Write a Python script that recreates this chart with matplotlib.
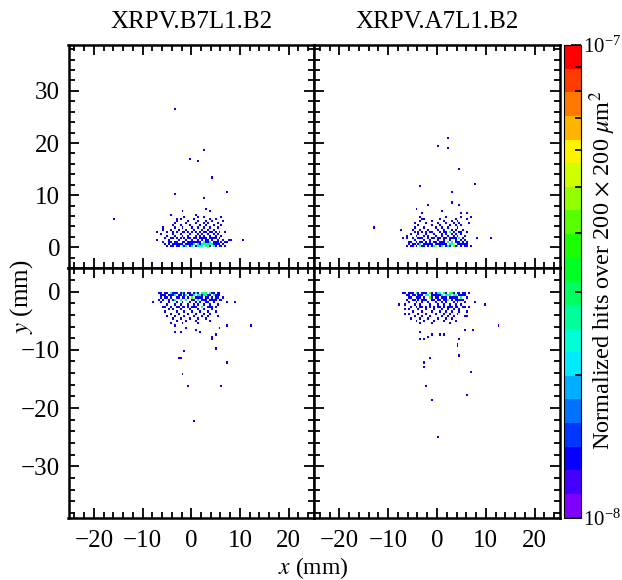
import numpy as np
import matplotlib
matplotlib.use('Agg')
import matplotlib.pyplot as plt
from matplotlib.colors import ListedColormap, LogNorm, hsv_to_rgb
from matplotlib.ticker import MultipleLocator, NullFormatter

plt.rcParams['font.family'] = ['Liberation Serif', 'DejaVu Serif']
plt.rcParams['mathtext.fontset'] = 'stix'
plt.rcParams['font.size'] = 18

titles = ['XRPV.B7L1.B2', 'XRPV.A7L1.B2']

# hits (mm): rows of the dense core as (y, [x...]), plus isolated hits
b7_up_rows = [
    (0.3, [-5.1, -4.3, -3.8, -3.0, -2.7, -2.0, -1.3, -0.9, -0.2, 0.3, 0.9, 1.4, 1.8, 2.3, 2.9, 3.3, 3.8, 4.5, 5.1, 5.6,
           6.2, 7.1, 0.3, 2.3, 2.9, 3.3, 3.3, 4.5, -0.9, 1.4, -2.0, 1.8]),
    (0.5, [-4.6, -3.4, -2.3, -1.7, -0.6, 0.1, 0.7, 1.2, 2.1, 2.6, 3.1, 3.7, 4.2, 4.9, 5.4, 6.6, 2.6, 3.7, 1.2]),
    (0.7, [-5.4, -3.9, -3.1, -2.5, -1.0, -0.4, 0.5, 1.6, 2.2, 2.8, 3.5, 4.0, 4.7, 5.8, 3.5]),
    (0.9, [-4.8, -2.9, -1.9, -0.8, 0.2, 1.0, 1.9, 2.7, 3.2, 3.9, 4.4, 5.2, 7.0, 7.5]),
    (1.1, [-5.9, -4.1, -3.3, -1.5, -0.3, 0.6, 1.5, 2.4, 3.0, 3.6, 4.8, 6.0]),
    (1.3, [-4.5, -2.6, -1.1, 0.0, 1.2, 2.0, 2.9, 3.4, 4.3, 5.5, 6.5, 7.8, 8.2, 10.7, -7.2]),
    (1.6, [-5.6, -3.7, -2.2, -0.6, 0.4, 1.7, 2.5, 3.8, 4.6, 5.1]),
    (1.9, [-4.3, -3.0, -1.4, -0.1, 1.1, 2.2, 3.1, 4.1, 5.7]),
    (2.2, [-5.0, -3.5, -1.8, -0.7, 0.8, 1.9, 2.7, 3.6, 4.9, 6.2]),
    (2.5, [-6.3, -4.0, -2.4, -0.2, 1.4, 2.3, 3.3, 4.4, 5.4]),
    (2.8, [-3.2, -1.3, 0.3, 1.0, 2.9, 3.9, 5.9, 6.8, -7.1]),
    (3.1, [-5.2, -3.9, -2.0, -0.5, 1.6, 2.5, 4.2, 5.0]),
    (3.5, [-4.4, -2.8, -1.0, 0.6, 2.1, 3.2, 4.6, -5.8]),
    (3.9, [-5.7, -3.4, -1.7, 0.1, 1.3, 2.7, 3.7, 5.3]),
    (4.3, [-4.0, -2.3, -0.3, 1.8, 3.1, 4.4, 6.1]),
    (4.7, [-3.6, -1.2, 0.8, 2.4, 3.5, 5.5]),
    (5.1, [-2.9, -0.6, 1.4, 2.9, 4.2, 6.4]),
    (5.5, [-3.2, -2.1, 0.5, 3.8, 5.1, -16.0]),
    (5.9, [-1.5, 1.3, 2.6, 6.1]),
    (6.3, [-4.2, 0.9]),
]
b7_up_single = [(-3.5, 26.5), (2.6, 18.5), (-0.4, 17.1), (1.3, 16.7), (4.0, 13.2), (-3.4, 10.3), (7.2, 10.7),
                (2.4, 9.3), (3.0, 7.4), (3.7, 7.0), (-1.8, 6.8)]

a7_up_rows = [
    (0.3, [-6.2, -5.5, -4.9, -4.2, -3.6, -3.2, -2.5, -1.9, -1.2, -0.7, -0.1, 0.4, 1.0, 1.6, 2.1, 2.7, 3.2, 3.8, 4.3, 5.0,
           5.6, 6.3, 6.9, -0.1, -0.1, -0.1, -3.6, -3.6, 2.1, 3.2, 3.2, 4.3, 1.0, -0.7]),
    (0.5, [-5.8, -4.5, -3.3, -2.2, -1.5, -0.4, 0.7, 1.3, 2.4, 2.9, 3.5, 4.6, 5.3, 6.0, 2.9, 3.5, -3.3]),
    (0.7, [-5.1, -3.9, -2.8, -1.7, -0.9, 0.2, 1.1, 1.8, 2.6, 3.4, 4.0, 4.9, 5.9, 3.4]),
    (0.9, [-6.0, -4.3, -3.0, -1.3, -0.2, 0.9, 2.0, 2.8, 3.7, 4.5, 5.5]),
    (1.1, [-5.3, -3.5, -2.4, -0.6, 0.5, 1.4, 2.3, 3.1, 4.2, 6.2]),
    (1.3, [-4.7, -2.7, -1.6, 0.1, 1.2, 2.5, 3.6, 4.8, 5.8]),
    (1.6, [-6.3, -4.0, -3.1, -2.0, -0.8, 0.6, 1.7, 2.9, 3.8, 4.4, 5.2, 8.3, 10.8, -7.1]),
    (1.9, [-5.0, -3.4, -1.1, 0.3, 1.5, 2.6, 3.3, 4.7]),
    (2.2, [-4.4, -2.6, -1.8, -0.3, 1.0, 2.2, 3.5, 4.1, 5.6, -6.3]),
    (2.5, [-5.6, -3.7, -2.2, -0.5, 0.8, 1.9, 3.0, 3.9, 5.0]),
    (2.8, [-4.8, -3.0, -1.4, 0.4, 1.6, 2.7, 4.4, 6.0]),
    (3.1, [-3.9, -2.1, -0.9, 1.2, 2.4, 3.4, 4.9]),
    (3.5, [-5.2, -3.3, -1.7, 0.0, 1.5, 2.9, 3.7, 5.4, -7.4]),
    (3.9, [-4.5, -2.6, -0.4, 1.0, 2.2, 4.0, -12.9]),
    (4.3, [-3.9, -1.2, 0.7, 2.6, 3.6, 5.1]),
    (4.7, [-4.6, -2.3, 0.2, 1.9, 3.2, 4.5, 6.4]),
    (5.1, [-3.5, -1.0, 1.4, 2.9, 4.2]),
    (5.5, [-2.5, 0.6, 3.9, 6.1, -3.0]),
    (5.9, [-3.4, 1.9, 4.8, 6.9]),
]
a7_up_single = [(2.2, 21.1), (0.1, 19.5), (2.0, 18.9), (4.6, 14.9), (-3.5, 11.7), (7.6, 12.1), (2.8, 10.7),
                (3.1, 8.4), (4.4, 8.2), (-2.0, 8.3), (-4.1, 7.4), (6.1, 6.7), (5.0, 6.4), (-3.0, 6.7), (1.1, 6.8)]

b7_down_rows = [
    (-0.3, [-6.7, -6.1, -5.6, -5.0, -4.4, -4.0, -3.5, -2.9, -2.4, -1.8, -1.3, -0.7, -0.2, 0.4, 0.9, 1.5, 2.0, 2.5, 3.1,
            3.6, 4.1, 4.7, 5.2, 5.7, 2.5, 2.5, 3.1, 3.6, -4.4, 0.9, -1.8, 2.0]),
    (-0.5, [-6.3, -5.3, -4.2, -3.3, -2.6, -1.5, -0.9, 0.1, 0.6, 1.2, 1.8, 2.7, 3.4, 4.4, 5.0, 5.9, -3.3, 2.7, 1.2]),
    (-0.7, [-5.8, -4.7, -3.8, -2.2, -1.1, -0.4, 0.7, 1.6, 2.3, 3.0, 3.9, 4.6, 5.5, 3.0]),
    (-0.9, [-6.1, -5.0, -3.1, -1.9, -0.6, 0.3, 1.3, 2.1, 2.9, 4.2, 5.2, 6.4, 0.3]),
    (-1.1, [-5.4, -4.3, -2.7, -1.5, 0.0, 1.0, 1.9, 3.4, 4.8]),
    (-1.3, [-6.5, -4.8, -3.5, -2.1, -0.9, 0.5, 1.5, 2.5, 3.7, 4.4, 5.6, -3.5]),
    (-1.6, [-5.7, -3.9, -2.4, -1.2, 0.2, 1.2, 2.2, 3.1, 4.0, 5.0, 6.1]),
    (-1.9, [-6.2, -4.6, -3.0, -1.7, -0.3, 0.8, 1.8, 2.8, 3.5, 4.6, -8.0, 7.4, 9.1]),
    (-2.2, [-5.1, -3.6, -2.2, -0.8, 0.4, 1.4, 2.5, 3.9, 5.4]),
    (-2.5, [-6.0, -4.2, -2.6, -1.4, 0.0, 1.1, 2.0, 3.2, 4.3]),
    (-2.8, [-5.3, -3.2, -1.9, -0.5, 0.7, 2.3, 3.6, 5.0]),
    (-3.2, [-4.7, -3.7, -2.1, -0.2, 1.5, 2.7, 4.1]),
    (-3.6, [-5.6, -3.0, -1.3, 0.3, 1.8, 3.3, 4.8]),
    (-4.0, [-4.4, -2.5, -0.7, 1.0, 2.4, 3.8]),
    (-4.4, [-5.2, -3.4, -1.6, 0.6, 2.0, 3.4, 5.3]),
    (-4.8, [-4.0, -2.2, -0.3, 1.5, 2.9]),
    (-5.2, [-3.0, -1.0, 0.8, 3.6]),
    (-5.6, [-4.3, -1.8, 1.2]),
]
b7_down_single = [(0.4, -22.3), (-0.8, -16.3), (6.0, -16.1), (-1.8, -14.1), (7.2, -12.3), (-2.7, -11.3),
                  (-2.4, -11.3), (-1.4, -10.1), (4.8, -9.7), (4.0, -7.7), (4.0, -8.1), (4.8, -7.3), (-3.5, -7.1),
                  (-2.4, -7.1), (1.6, -7.0), (0.9, -6.8), (-1.1, -6.3), (-3.5, -5.9), (7.3, -6.0), (12.0, -6.0),
                  (5.8, -6.1)]

a7_down_rows = [
    (-0.3, [-7.1, -6.6, -6.0, -5.4, -4.9, -4.3, -3.8, -3.2, -2.6, -2.1, -1.5, -1.0, -0.4, 0.2, 0.7, 1.3, 1.8, 2.4, 2.9,
            3.5, 4.0, 4.6, 5.2, 5.8, 6.4, -1.5, -1.5, 0.2, 0.7, 2.4, 2.4, 2.9, -4.3, 1.3]),
    (-0.5, [-6.3, -5.1, -4.0, -3.5, -2.4, -1.8, -0.7, 0.0, 0.9, 1.6, 2.2, 3.2, 3.8, 4.4, 5.4, -2.4, 1.6, 3.2]),
    (-0.7, [-5.7, -4.6, -3.0, -2.0, -1.2, -0.2, 0.5, 1.1, 2.0, 2.7, 3.6, 4.9, 5.8, 2.7]),
    (-0.9, [-6.0, -4.2, -3.3, -1.6, -0.9, 0.3, 1.4, 2.5, 3.3, 4.1, 4.8, -1.6]),
    (-1.1, [-5.3, -3.7, -2.7, -1.3, -0.1, 0.9, 1.9, 3.0, 3.9, 5.1, 6.1]),
    (-1.3, [-6.4, -4.5, -3.2, -2.2, -0.6, 0.6, 1.6, 2.3, 3.6, 4.5, 5.5]),
    (-1.6, [-5.0, -3.8, -2.5, -1.0, 0.2, 1.2, 2.2, 2.9, 4.0, 5.0, 2.2]),
    (-1.9, [-5.8, -4.1, -2.9, -1.9, -0.3, 0.9, 1.8, 3.3, 4.3, 5.7, 7.7]),
    (-2.2, [-6.5, -4.7, -3.3, -1.4, 0.1, 1.4, 2.5, 3.7, 4.9, 9.7, -7.8]),
    (-2.5, [-5.4, -3.6, -2.2, -0.8, 0.6, 2.0, 3.1, 4.2, 5.3, 6.7]),
    (-2.8, [-4.4, -3.0, -1.5, 0.3, 1.5, 2.7, 3.9, 5.6]),
    (-3.2, [-5.7, -3.8, -2.4, -0.6, 0.9, 2.3, 3.4, 4.6, -6.5]),
    (-3.6, [-4.9, -3.2, -1.2, 0.4, 1.7, 3.0, 4.5, 6.0]),
    (-4.0, [-5.9, -4.0, -2.2, -0.3, 1.2, 2.6, 4.1, -6.8]),
    (-4.4, [-4.8, -3.0, -1.4, 0.8, 2.0, 3.5, 5.8, 6.2]),
    (-4.8, [-5.5, -3.6, -1.9, 0.2, 1.8, 3.1]),
    (-5.2, [-4.4, -2.6, -0.6, 1.5, 3.7]),
    (-5.6, [-3.3, -1.2, 2.4]),
]
a7_down_single = [(0.1, -25.2), (-1.1, -18.5), (6.0, -18.0), (-2.2, -16.1), (7.0, -13.7), (-2.7, -12.3),
                  (-2.7, -12.9), (-1.5, -11.5), (4.4, -10.9), (4.0, -8.9), (4.0, -9.5), (4.6, -8.1), (-3.5, -8.1),
                  (-2.7, -8.1), (-1.9, -7.8), (-1.0, -7.4), (-3.6, -7.2), (0.5, -7.4), (1.3, -7.4), (12.4, -6.0),
                  (5.8, -6.6), (7.4, -6.6)]

hit_weight = 1.35e-8   # normalisation of one hit
vmin, vmax = 1e-8, 1e-7


def collect(rows, single):
    xs, ys = [], []
    for y, row in rows:
        xs += row
        ys += [y] * len(row)
    for x, y in single:
        xs.append(x)
        ys.append(y)
    return np.array(xs), np.array(ys)


# discrete rainbow, violet -> red
hues = np.linspace(0.75, 0.0, 20)
cmap = ListedColormap(hsv_to_rgb(np.column_stack([hues, np.ones(20), np.ones(20)])))
cmap = cmap.with_extremes(over=cmap(1.0), under=cmap(0.0))
norm = LogNorm(vmin=vmin, vmax=vmax)

xedges = np.arange(-25.2, 25.21, 0.4)
yedges = np.arange(-39.2, 39.21, 0.4)

W, H = 622, 580
fig = plt.figure(figsize=(W / 100, H / 100), dpi=100)

L, M, R = 68.5, 314.0, 560.0
T, C, B = 45.0, 267.7, 517.5

panels = [
    (b7_up_rows, b7_up_single, [L, M], [T, C], (-3.9, 38.8), 0, 0),
    (a7_up_rows, a7_up_single, [M, R], [T, C], (-3.9, 38.8), 0, 1),
    (b7_down_rows, b7_down_single, [L, M], [C, B], (-38.8, 4.1), 1, 0),
    (a7_down_rows, a7_down_single, [M, R], [C, B], (-38.8, 4.1), 1, 1),
]

mesh = None
for rows, single, xs_px, ys_px, ylim, r, c in panels:
    ax = fig.add_axes([xs_px[0] / W, 1 - ys_px[1] / H, (xs_px[1] - xs_px[0]) / W, (ys_px[1] - ys_px[0]) / H])
    x, y = collect(rows, single)
    h, _, _ = np.histogram2d(x, y, bins=[xedges, yedges])
    h = np.ma.masked_equal(h.T, 0) * hit_weight
    mesh = ax.pcolormesh(xedges, yedges, h, cmap=cmap, norm=norm, rasterized=True)
    ax.set_xlim(-25.2, 25.2)
    ax.set_ylim(*ylim)
    ax.xaxis.set_major_locator(MultipleLocator(10))
    ax.xaxis.set_minor_locator(MultipleLocator(2))
    ax.yaxis.set_major_locator(MultipleLocator(10))
    ax.yaxis.set_minor_locator(MultipleLocator(2))
    ax.tick_params(which='both', direction='in', top=True, right=True, width=1.3)
    ax.tick_params(which='major', length=7)
    ax.tick_params(which='minor', length=4)
    ax.tick_params(axis='x', pad=9)
    ax.tick_params(axis='y', pad=6)
    for s in ax.spines.values():
        s.set_linewidth(1.8)
    if r == 0:
        ax.tick_params(labelbottom=False)
        ax.set_title(titles[c], pad=12, fontsize=18)
    if c == 1:
        ax.tick_params(labelleft=False)

cax = fig.add_axes([563.5 / W, 1 - B / H, 17 / W, (B - T) / H])
cb = fig.colorbar(mesh, cax=cax)
cb.outline.set_linewidth(0.8)
cb.ax.yaxis.set_minor_formatter(NullFormatter())
cb.ax.tick_params(which='both', direction='in', width=1.2, labelsize=15)
cb.ax.tick_params(which='major', length=7, pad=2)
cb.ax.tick_params(which='minor', length=4)

fig.text(603 / W, 1 - 270 / H, r'Normalized hits over 200 $\times$ 200 $\mu$m$^2$',
         rotation=90, ha='center', va='center', fontsize=17.5)
fig.text(22 / W, 1 - 297 / H, r'$y$ (mm)', rotation=90, ha='center', va='center', fontsize=18)
fig.text(313 / W, 1 - 568 / H, r'$x$ (mm)', ha='center', va='center', fontsize=17)

fig.savefig('out.png', dpi=100)
